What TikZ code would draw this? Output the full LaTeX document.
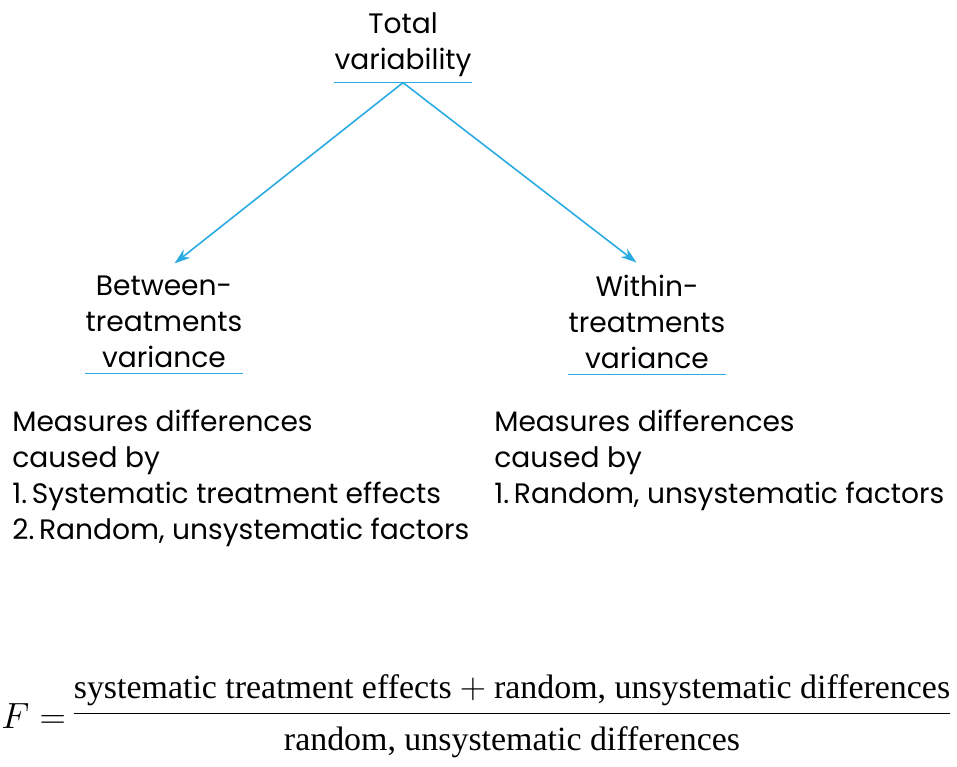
\documentclass[tikz,border=0pt]{standalone}
\usepackage{amsmath}
\usepackage{fontspec}
\setmainfont{Poppins}
\newfontfamily\formulafont{Liberation Serif}
\usetikzlibrary{arrows.meta,positioning}
\definecolor{lineblue}{RGB}{41,171,226}

\begin{document}
\begin{tikzpicture}[x=0.02cm,y=-0.02cm,node distance=3pt,
    heading/.style={align=center,inner xsep=0pt,inner ysep=3pt,font=\fontsize{16}{20.5}\selectfont},
    notes/.style={align=left,anchor=north west,inner sep=0pt,font=\fontsize{16}{20.5}\selectfont},
    formula/.style={inner sep=0pt,font=\formulafont\fontsize{19.3}{23.5}\selectfont},
    rule/.style={lineblue,line width=0.9pt},
    link/.style={lineblue,line width=0.9pt,-{Stealth[length=9pt,width=6pt]}}]
   \useasboundingbox (0,0) rectangle (957,767);
   \node[heading] (total)   at (403,45)  {Total\\variability};
   \node[heading] (between) at (164,322) {Between-\\treatments\\variance};
   \node[heading] (within)  at (647,322) {Within-\\treatments\\variance};
   \draw[rule] (total.south west) -- (total.south east);
   \draw[rule] (between.south west) -- (between.south east);
   \draw[rule] (within.south west) -- (within.south east);
   \draw[link] (total.south) -- ([xshift=6pt,yshift=4pt]between.north);
   \draw[link] (total.south) -- ([xshift=-6pt,yshift=4pt]within.north);
   % what each part measures
   \node[notes] (betweennote) at (12,410) {Measures differences\\caused by\\1.\,Systematic treatment effects\\2.\,Random, unsystematic factors};
   \node[notes] (withinnote)  at (494,410) {Measures differences\\caused by\\1.\,Random, unsystematic factors};
   % the ratio
   \node[formula] (ratio) at (512,716)
     {$\dfrac{\text{systematic treatment effects} + \text{random, unsystematic differences}}{\rule{0pt}{18pt}\text{random, unsystematic differences}}$};
   \node[formula,left=of ratio] (fvalue) {$F =$};
\end{tikzpicture}
\end{document}
